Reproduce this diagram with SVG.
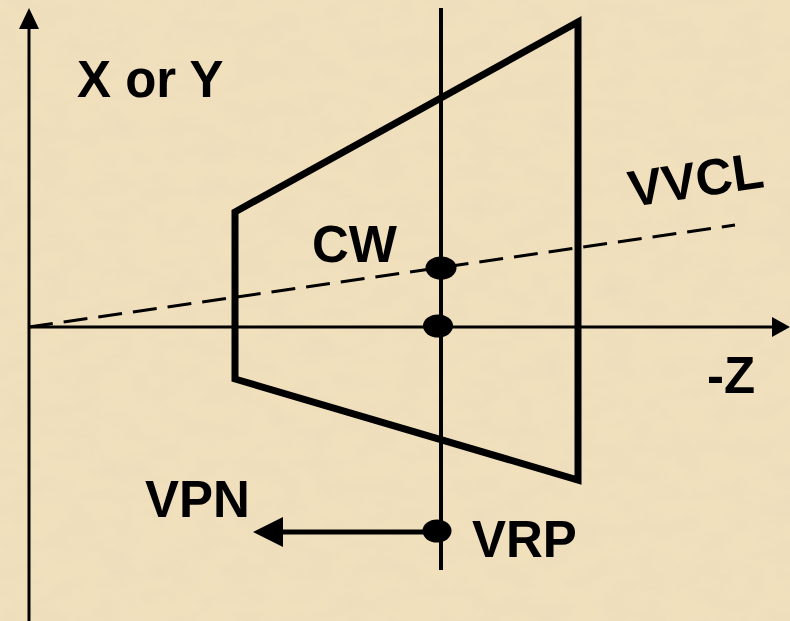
<svg xmlns="http://www.w3.org/2000/svg" width="790" height="621" viewBox="0 0 790 621">
  <defs>
    <style>
      .lbl { font-family: "Liberation Sans", Arial, sans-serif; font-weight: bold; font-size: 51px; fill: #000; }
      .axis { stroke: #000; stroke-width: 3; fill: none; }
      .thick { stroke: #000; stroke-width: 7; fill: none; stroke-linejoin: miter; }
      .dash { stroke: #000; stroke-width: 3; fill: none; stroke-dasharray: 24 11; }
      .dot { fill: #000; }
    </style>
    <filter id="paper" x="0" y="0" width="100%" height="100%">
      <feTurbulence type="fractalNoise" baseFrequency="0.03 0.05" numOctaves="4" seed="7" result="n"/>
      <feColorMatrix in="n" type="matrix" values="0 0 0 0 0.82  0 0 0 0 0.70  0 0 0 0 0.50  0 0 0 1.8 -0.6"/>
    </filter>
  </defs>
  <rect width="790" height="621" fill="#F1E0BC"/>
  <rect width="790" height="621" filter="url(#paper)" opacity="0.5"/>

  <g id="axes">
    <line class="axis" x1="29" y1="26" x2="29" y2="621"/>
    <polygon points="29,8 19,29 39,29" fill="#000"/>
    <line class="axis" x1="29" y1="327" x2="775" y2="327"/>
    <polygon points="790,327 772,317 772,337" fill="#000"/>
    <line x1="441" y1="8" x2="441" y2="570" stroke="#000" stroke-width="4"/>
  </g>

  <g id="frustum">
    <polygon class="thick" points="235,212 578,22 578,480 235,379"/>
  </g>

  <g id="connectors">
    <line class="dash" x1="29" y1="327" x2="735" y2="225"/>
    <line x1="437" y1="532" x2="280" y2="532" stroke="#000" stroke-width="5"/>
    <polygon points="253,532 283,517 283,547" fill="#000"/>
  </g>

  <g id="cw">
    <ellipse class="dot" cx="441" cy="268" rx="15.5" ry="11.5"/>
    <text class="lbl" x="312" y="262">CW</text>
  </g>
  <g id="origin">
    <ellipse class="dot" cx="438" cy="326" rx="15" ry="11.5"/>
  </g>
  <g id="vrp">
    <ellipse class="dot" cx="437" cy="531" rx="14.5" ry="11.5"/>
    <text class="lbl" x="472" y="557">VRP</text>
  </g>
  <g id="vpn">
    <text class="lbl" x="145" y="517">VPN</text>
  </g>
  <g id="xy-label">
    <text class="lbl" x="77" y="97">X or Y</text>
  </g>
  <g id="z-label">
    <text class="lbl" x="707" y="393">-Z</text>
  </g>
  <g id="vvcl-label">
    <text class="lbl" x="631" y="207" font-size="45" transform="rotate(-8.5 631 207)">VVCL</text>
  </g>
</svg>
